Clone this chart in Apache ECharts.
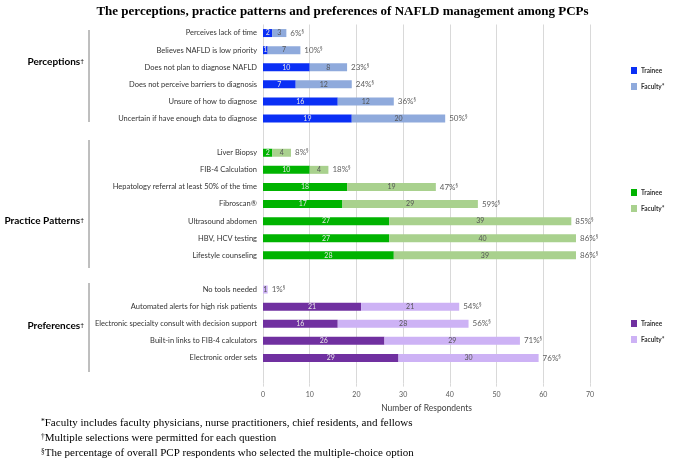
<!DOCTYPE html>
<html>
<head>
<meta charset="utf-8">
<script src="https://cdn.jsdelivr.net/npm/echarts@6/dist/echarts.min.js"></script>
<style>html,body{margin:0;padding:0;background:#fff}#c{width:685px;height:459px}</style>
</head>
<body>
<div id="c"></div>
<script>
// ---- data ----
var perceptionCats = ['Perceives lack of time','Believes NAFLD is low priority','Does not plan to diagnose NAFLD','Does not perceive barriers to diagnosis','Unsure of how to diagnose','Uncertain if have enough data to diagnose'];
var perceptionTrainee = [2, 1, 10, 7, 16, 19];
var perceptionFaculty = [3, 7, 8, 12, 12, 20];
var perceptionPct = ['6%','10%','23%','24%','36%','50%'];

var practiceCats = ['Liver Biopsy','FIB-4 Calculation','Hepatology referral at least 50% of the time','Fibroscan\u00AE','Ultrasound abdomen','HBV, HCV testing','Lifestyle counseling'];
var practiceTrainee = [2, 10, 18, 17, 27, 27, 28];
var practiceFaculty = [4, 4, 19, 29, 39, 40, 39];
var practicePct = ['8%','18%','47%','59%','85%','86%','86%'];

var preferenceCats = ['No tools needed','Automated alerts for high risk patients','Electronic specialty consult with decision support','Built-in links to FIB-4 calculators','Electronic order sets'];
var preferenceTrainee = [0, 21, 16, 26, 29];
var preferenceFaculty = [1, 21, 28, 29, 30];
var preferencePct = ['1%','54%','56%','71%','76%'];

var xTicks = [0, 10, 20, 30, 40, 50, 60, 70];

// ---- build ----
var groups = [
  {key:'P', cats:perceptionCats, tr:perceptionTrainee, fa:perceptionFaculty, pct:perceptionPct, c1:'#0a2ff5', c2:'#8faadc', title:'Perceptions'},
  {key:'PP', cats:practiceCats, tr:practiceTrainee, fa:practiceFaculty, pct:practicePct, c1:'#00b300', c2:'#a9d18e', title:'Practice Patterns'},
  {key:'PR', cats:preferenceCats, tr:preferenceTrainee, fa:preferenceFaculty, pct:preferencePct, c1:'#7030a0', c2:'#cdb2f5', title:'Preferences'}
];
var cats = [];
var blanks = [' ', '  ', '   '];
groups.forEach(function(g, gi){
  g.start = cats.length;
  g.cats.forEach(function(c){ cats.push(c); });
  cats.push(blanks[gi]);
});
var N = cats.length;

var series = [];
var FONT = 'Lato';
groups.forEach(function(g){
  var tr = [], fa = [], pts = [];
  for (var i = 0; i < N; i++) { tr.push('-'); fa.push('-'); }
  g.cats.forEach(function(c, j){
    tr[g.start + j] = g.tr[j];
    fa[g.start + j] = g.fa[j];
    pts.push({value:[g.tr[j] + g.fa[j], g.start + j], pct:g.pct[j]});
  });
  series.push({
    name:'Trainee-' + g.key, type:'bar', stack:'all', data:tr, barWidth:8,
    itemStyle:{color:g.c1},
    label:{show:true, position:'inside', fontSize:7, fontFamily:FONT, color:'#e6e6e6',
      formatter:function(p){ return p.value > 0 ? p.value : ''; }}
  });
  series.push({
    name:'Faculty*-' + g.key, type:'bar', stack:'all', data:fa, barWidth:8,
    itemStyle:{color:g.c2},
    label:{show:true, position:'inside', fontSize:7, fontFamily:FONT, color:'#555',
      formatter:function(p){ return p.value > 0 ? p.value : ''; }}
  });
  series.push({
    name:'pct-' + g.key, type:'scatter', data:pts, symbolSize:0, silent:true,
    label:{show:true, position:'right', distance:4,
      formatter:function(p){ return '{p|' + p.data.pct + '}{s|\u00A7}'; },
      rich:{p:{fontSize:8, fontFamily:FONT, color:'#333'}, s:{fontSize:5, fontFamily:FONT, color:'#333', verticalAlign:'top', padding:[0,0,4,0]}}}
  });
});

var legendTops = [62, 184, 315];
var legends = groups.map(function(g, gi){
  return {
    data:['Trainee-' + g.key, 'Faculty*-' + g.key],
    orient:'vertical', left:626, top:legendTops[gi], itemWidth:6, itemHeight:7, itemGap:9,
    icon:'rect', selectedMode:false,
    formatter:function(n){ return n.split('-')[0]; },
    textStyle:{fontSize:6.5, fontWeight:'bold', fontFamily:FONT, color:'#333', padding:[0,0,0,-1]}
  };
});

var graphics = [];
var brackets = [[30,122],[140,268],[283,372]];
var labelYs = [62, 221, 326];
groups.forEach(function(g, gi){
  graphics.push({type:'line', shape:{x1:89, y1:brackets[gi][0], x2:89, y2:brackets[gi][1]}, style:{stroke:'#7f7f7f', lineWidth:1}});
  graphics.push({type:'text', x:84, y:labelYs[gi], style:{
    text:'{t|' + g.title + '}{s|\u2020}', align:'right', verticalAlign:'middle',
    rich:{t:{fontSize:10, fontWeight:'bold', fontFamily:FONT, color:'#262626'}, s:{fontSize:6.5, fontFamily:FONT, color:'#262626', verticalAlign:'top'}}
  }});
});
var foot = [
  ['*','Faculty includes faculty physicians, nurse practitioners, chief residents, and fellows'],
  ['\u2020','Multiple selections were permitted for each question'],
  ['\u00A7','The percentage of overall PCP respondents who selected the multiple-choice option']
];
foot.forEach(function(f, i){
  graphics.push({type:'text', left:41, top:418 + i*15, style:{
    text:'{s|' + f[0] + '}{t|' + f[1] + '}',
    rich:{s:{fontSize:7.5, fontFamily:'Liberation Serif', color:'#000', verticalAlign:'top'}, t:{fontSize:11, fontFamily:'Liberation Serif', color:'#000'}}
  }});
});

var option = {
  backgroundColor:'#fff',
  animation:false,
  title:{text:'The perceptions, practice patterns and preferences of NAFLD management among PCPs', left:'center', top:0,
    textStyle:{fontSize:13, fontWeight:'bold', fontFamily:'Liberation Serif', color:'#000'}},
  legend:legends,
  grid:{left:263, width:327, top:24.5, height:17.1*N},
  xAxis:{type:'value', min:0, max:70, interval:10,
    axisLine:{show:false}, axisTick:{show:true, length:3, lineStyle:{color:'#d9d9d9'}},
    splitLine:{lineStyle:{color:'#d9d9d9'}},
    axisLabel:{fontSize:7, fontFamily:FONT, color:'#595959', margin:8},
    name:'Number of Respondents', nameLocation:'middle', nameGap:20,
    nameTextStyle:{fontSize:8.5, fontFamily:FONT, color:'#404040'}},
  yAxis:{type:'category', data:cats, inverse:true,
    axisLine:{show:false}, axisTick:{show:false},
    axisLabel:{fontSize:7.5, fontFamily:FONT, color:'#333', margin:6, interval:0}},
  series:series,
  graphic:graphics
};
var chart = echarts.init(document.getElementById('c'), null, {renderer:'canvas'});
chart.setOption(option);
</script>
</body>
</html>
